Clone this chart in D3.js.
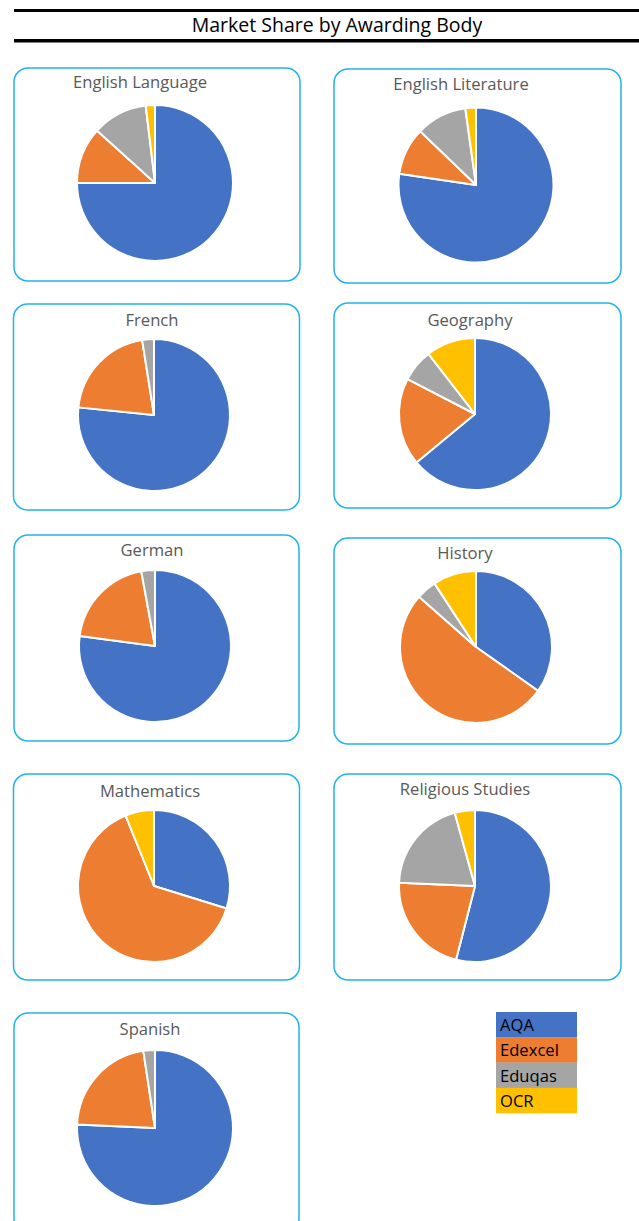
<!DOCTYPE html>
<meta charset='utf-8'>
<style>
body { margin: 0; background: #fff; }
.chart-title { font-family: 'Open Sans', sans-serif; font-size: 19.5px; fill: #000; }
.pie-title { font-family: 'Open Sans', sans-serif; font-size: 16.6px; fill: #595959; }
.legend-text { font-family: 'Open Sans', sans-serif; font-size: 16.6px; fill: #000; }
</style>
<svg width='639' height='1221'></svg>
<script src='https://d3js.org/d3.v7.min.js'></script>
<script>

// data (percent share per subject)
var subjects = ['English Language', 'English Literature', 'French', 'Geography', 'German',
                'History', 'Mathematics', 'Religious Studies', 'Spanish'];
var bodies = ['AQA', 'Edexcel', 'Eduqas', 'OCR'];
var aqa     = [75.0, 77.3, 76.6, 64.0, 77.1, 34.8, 29.8, 54.0, 75.7];
var edexcel = [11.7,  9.9, 20.9, 18.6, 20.0, 51.7, 64.1, 21.7, 21.9];
var eduqas  = [11.4, 10.6,  2.5,  6.9,  2.9,  4.3,  0.0, 20.0,  2.4];
var ocr     = [ 1.9,  2.2,  0.0, 10.5,  0.0,  9.2,  6.1,  4.3,  0.0];

var colors = ['#4472c4', '#ed7d31', '#a5a5a5', '#ffc000'];

// layout of the panels: box [x, y, w, h], pie centre [cx, cy, r], title [x, y]
var boxes = [
  [14, 68, 286, 213], [334, 69, 287, 214],
  [13.5, 304, 286, 206], [334, 303, 287, 205],
  [14, 535, 285, 206], [334, 538, 287, 206],
  [13.5, 774, 286, 206], [334, 774, 287, 206],
  [14, 1013, 285, 220]
];
var pieCentres = [
  [155, 183, 78], [476, 185, 77.5],
  [154, 415, 76], [475, 414, 76],
  [155, 646, 76], [476, 647, 76],
  [154, 886, 76], [475, 886, 76],
  [155, 1128, 78]
];
var titlePos = [
  [140, 88], [461, 90],
  [152, 326], [470, 326],
  [152, 556], [465, 559],
  [150, 797], [465, 795],
  [150, 1035]
];

var svg = d3.select('svg');

// main title with the two heavy rules
svg.append('rect').attr('x', 14).attr('y', 9).attr('width', 625).attr('height', 3).attr('fill', '#000');
svg.append('rect').attr('x', 14).attr('y', 39).attr('width', 625).attr('height', 3.5).attr('fill', '#000');
svg.append('text')
    .attr('class', 'chart-title')
    .attr('x', 337)
    .attr('y', 32)
    .attr('text-anchor', 'middle')
    .text('Market Share by Awarding Body');

var series = [aqa, edexcel, eduqas, ocr];

var pie = d3.pie()
    .sort(null)
    .value(function(d) { return d.v; });

subjects.forEach(function(name, i) {
  var b = boxes[i], c = pieCentres[i], t = titlePos[i];

  var g = svg.append('g').attr('class', 'panel');

  g.append('rect')
      .attr('x', b[0]).attr('y', b[1])
      .attr('width', b[2]).attr('height', b[3])
      .attr('rx', 14).attr('ry', 14)
      .attr('fill', '#fff')
      .attr('stroke', '#22b3ea')
      .attr('stroke-width', 1.5);

  g.append('text')
      .attr('class', 'pie-title')
      .attr('x', t[0]).attr('y', t[1])
      .attr('text-anchor', 'middle')
      .text(name);

  var vals = bodies.map(function(body, j) { return { body: body, v: series[j][i], k: j }; });

  var arc = d3.arc().innerRadius(0).outerRadius(c[2]);

  g.append('g')
      .attr('transform', 'translate(' + c[0] + ',' + c[1] + ')')
    .selectAll('path')
    .data(pie(vals).filter(function(d) { return d.data.v > 0; }))
    .enter().append('path')
      .attr('d', arc)
      .attr('fill', function(d) { return colors[d.data.k]; })
      .attr('stroke', '#fff')
      .attr('stroke-width', 2)
      .attr('stroke-linejoin', 'round');
});

// legend (coloured cells with the names inside)
var legend = svg.append('g').attr('transform', 'translate(496,1012)');
var rowH = 25.25;
legend.selectAll('rect')
    .data(bodies)
    .enter().append('rect')
      .attr('x', 0)
      .attr('y', function(d, i) { return i * rowH; })
      .attr('width', 81)
      .attr('height', rowH + 0.3)
      .attr('fill', function(d, i) { return colors[i]; });
legend.selectAll('text')
    .data(bodies)
    .enter().append('text')
      .attr('class', 'legend-text')
      .attr('x', 4)
      .attr('y', function(d, i) { return i * rowH + 19; })
      .text(function(d) { return d; });

</script>
